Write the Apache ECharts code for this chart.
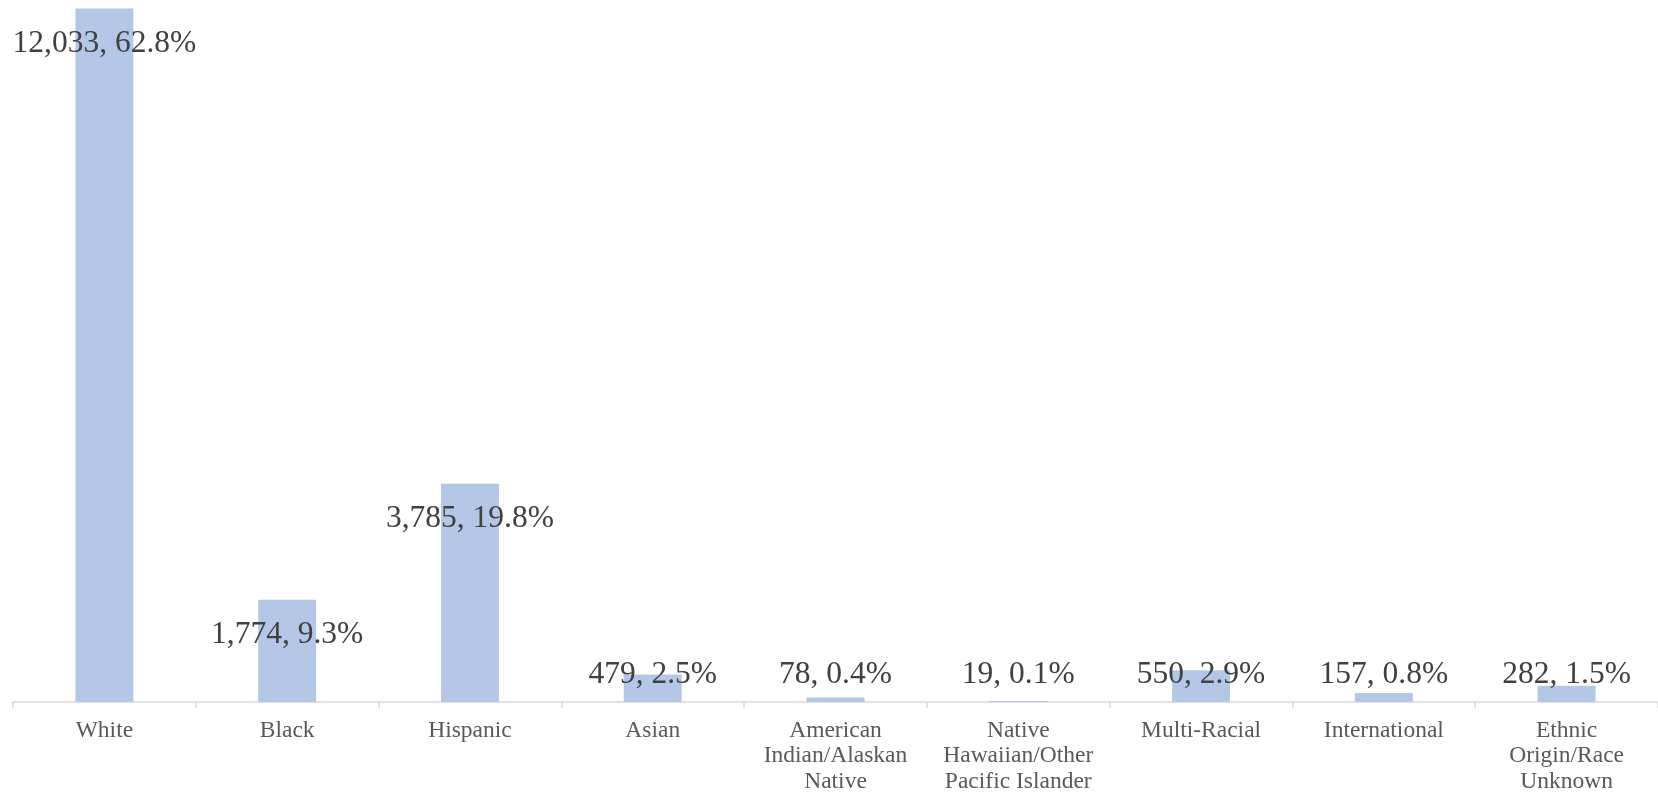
<!DOCTYPE html>
<html><head><meta charset="utf-8">
<script src="https://cdn.jsdelivr.net/npm/echarts@6/dist/echarts.min.js"></script>
<style>html,body{margin:0;padding:0;background:#fff}#c{width:1658px;height:795px}</style>
</head><body><div id="c"></div>
<script>
const categories = ["White","Black","Hispanic","Asian","American\nIndian/Alaskan\nNative","Native\nHawaiian/Other\nPacific Islander","Multi-Racial","International","Ethnic\nOrigin/Race\nUnknown"];
const counts = [12033,1774,3785,479,78,19,550,157,282];
const percents = ["62.8%","9.3%","19.8%","2.5%","0.4%","0.1%","2.9%","0.8%","1.5%"];

const fmt = v => v.toLocaleString('en-US');
const labelBase = {show:true, fontFamily:'"Liberation Serif","Times New Roman",serif', fontSize:31.5, color:'#404040'};
const data = counts.map((v,i)=>({
  value:v,
  label: Object.assign({}, labelBase, v > 1000
    ? {position:'insideTop', distance:19}
    : {position:'insideBottom', distance:11},
    {formatter: fmt(v)+', '+percents[i]})
}));

const chart = echarts.init(document.getElementById('c'));
chart.setOption({
  animation:false,
  grid:{left:13,right:0,top:8.5,bottom:93,containLabel:false},
  xAxis:{type:'category',data:categories,
    axisLine:{lineStyle:{color:'#d9d9d9',width:1.5}},
    axisTick:{show:true,alignWithLabel:false,length:6,lineStyle:{color:'#d9d9d9',width:1.5}},
    axisLabel:{interval:0,margin:16,fontFamily:'"Liberation Serif","Times New Roman",serif',fontSize:23.5,lineHeight:25.5,color:'#595959'}},
  yAxis:{type:'value',min:0,max:'dataMax',show:false,splitLine:{show:false}},
  series:[{type:'bar',data:data,barWidth:'31.7%',itemStyle:{color:'#b4c7e7'},z:2}]
});
</script></body></html>
